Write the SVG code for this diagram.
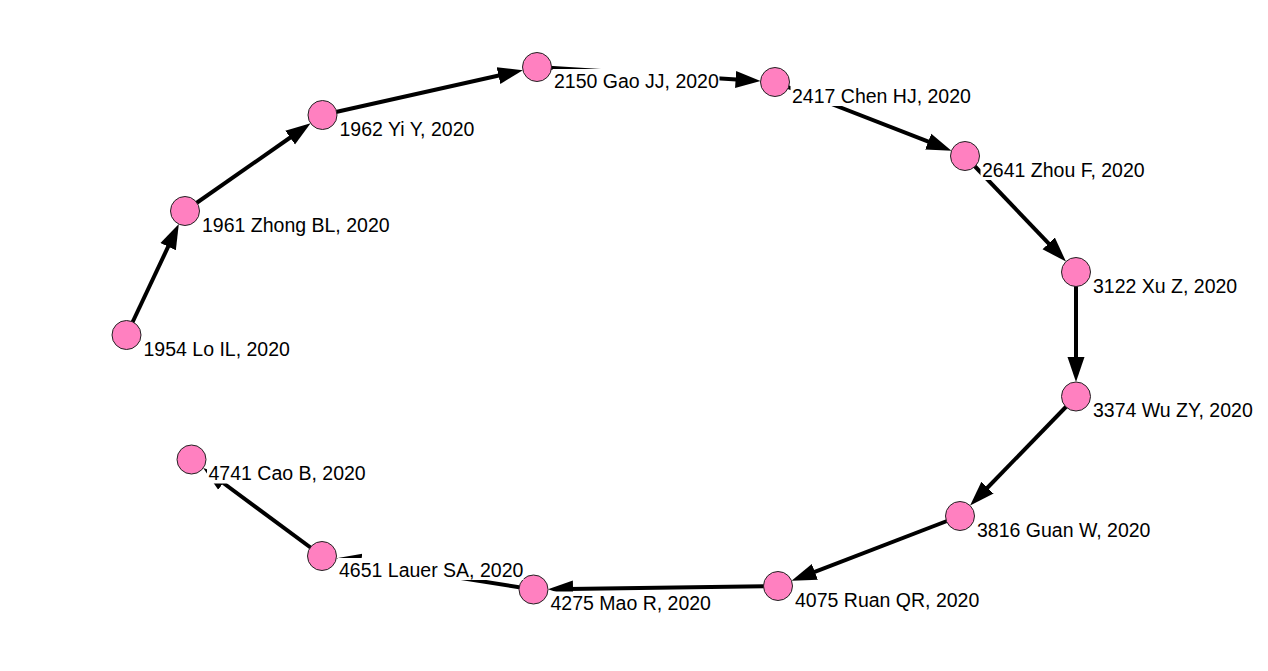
<svg xmlns="http://www.w3.org/2000/svg" width="1268" height="671" viewBox="0 0 1268 671">
<style>
.edge{stroke:#000;stroke-width:4;fill:none;marker-end:url(#arr)}
.node circle{fill:#ff80c0;stroke:#222;stroke-width:1}
.node rect{fill:#fff;stroke:none}
.node text{font-family:"Liberation Sans",Arial,sans-serif;font-size:19.5px;fill:#000}
</style>
<defs>
<marker id="arr" markerUnits="userSpaceOnUse" markerWidth="30" markerHeight="20" viewBox="0 -10 30 20" refX="5" refY="0" orient="auto">
<path d="M0,-8.5 L25,0 L0,8.5 z" fill="#000"/>
</marker>
</defs>
<rect width="1268" height="671" fill="#fff"/>
<g id="connectors">
<line class="edge" x1="126.5" y1="335" x2="170.28" y2="242.2"/>
<line class="edge" x1="185" y1="211" x2="294.21" y2="134.75"/>
<line class="edge" x1="322.5" y1="115" x2="503.33" y2="74.54"/>
<line class="edge" x1="537" y1="67" x2="740.57" y2="79.83"/>
<line class="edge" x1="775" y1="82" x2="932.85" y2="143.48"/>
<line class="edge" x1="965" y1="156" x2="1052.14" y2="247.07"/>
<line class="edge" x1="1076" y1="272" x2="1076" y2="362"/>
<line class="edge" x1="1076" y1="396.5" x2="984.03" y2="491.25"/>
<line class="edge" x1="960" y1="516" x2="810.2" y2="573.61"/>
<line class="edge" x1="778" y1="586" x2="568" y2="589"/>
<line class="edge" x1="533.5" y1="589.5" x2="356.07" y2="561.4"/>
<line class="edge" x1="322" y1="556" x2="219.24" y2="480.01"/>
</g>
<g id="n1954" class="node"><rect x="142" y="337" width="150" height="22"/><circle cx="126.5" cy="335" r="14.5"/><text x="143.5" y="355.5">1954 Lo IL, 2020</text></g>
<g id="n1961" class="node"><rect x="200.5" y="213" width="191" height="22"/><circle cx="185" cy="211" r="14.5"/><text x="202" y="231.5">1961 Zhong BL, 2020</text></g>
<g id="n1962" class="node"><rect x="338" y="117" width="142" height="22"/><circle cx="322.5" cy="115" r="14.5"/><text x="339.5" y="135.5">1962 Yi Y, 2020</text></g>
<g id="n2150" class="node"><rect x="552.5" y="69" width="167" height="22"/><circle cx="537" cy="67" r="14.5"/><text x="554" y="87.5">2150 Gao JJ, 2020</text></g>
<g id="n2417" class="node"><rect x="790.5" y="84" width="182" height="22"/><circle cx="775" cy="82" r="14.5"/><text x="792" y="102.5">2417 Chen HJ, 2020</text></g>
<g id="n2641" class="node"><rect x="980.5" y="158" width="168" height="22"/><circle cx="965" cy="156" r="14.5"/><text x="982" y="176.5">2641 Zhou F, 2020</text></g>
<g id="n3122" class="node"><rect x="1091.5" y="274" width="147" height="22"/><circle cx="1076" cy="272" r="14.5"/><text x="1093" y="292.5">3122 Xu Z, 2020</text></g>
<g id="n3374" class="node"><rect x="1091.5" y="398.5" width="165" height="22"/><circle cx="1076" cy="396.5" r="14.5"/><text x="1093" y="417">3374 Wu ZY, 2020</text></g>
<g id="n3816" class="node"><rect x="975.5" y="518" width="178" height="22"/><circle cx="960" cy="516" r="14.5"/><text x="977" y="536.5">3816 Guan W, 2020</text></g>
<g id="n4075" class="node"><rect x="793.5" y="588" width="187" height="22"/><circle cx="778" cy="586" r="14.5"/><text x="795" y="606.5">4075 Ruan QR, 2020</text></g>
<g id="n4275" class="node"><rect x="549" y="591.5" width="163" height="22"/><circle cx="533.5" cy="589.5" r="14.5"/><text x="550.5" y="610">4275 Mao R, 2020</text></g>
<g id="n4651" class="node"><rect x="337.5" y="558" width="186" height="22"/><circle cx="322" cy="556" r="14.5"/><text x="339" y="576.5">4651 Lauer SA, 2020</text></g>
<g id="n4741" class="node"><rect x="207" y="461.5" width="160" height="22"/><circle cx="191.5" cy="459.5" r="14.5"/><text x="208.5" y="480">4741 Cao B, 2020</text></g>
</svg>
